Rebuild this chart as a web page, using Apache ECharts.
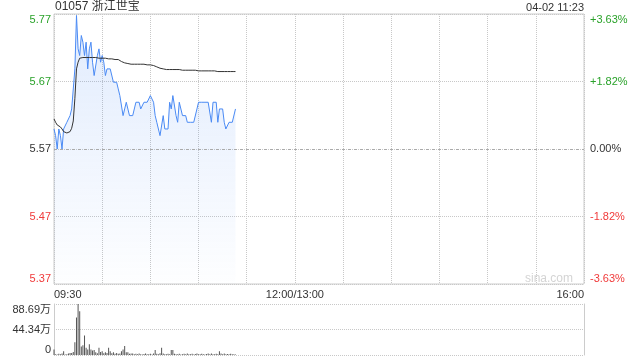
<!DOCTYPE html>
<html><head><meta charset="utf-8">
<script src="https://cdn.jsdelivr.net/npm/echarts@6/dist/echarts.min.js"></script>
<style>html,body{margin:0;padding:0;background:#fff}#c{width:640px;height:360px}</style>
</head><body><div id="c"></div>
<script>
const stockTitle = '01057 浙江世宝';
const stampText = '04-02 11:23';
const watermark = 'sina.com';
const prevClose = 5.57;
const pctRangeBp = 363;

const prices = [
 5.60,5.59,5.57,5.60,5.59,5.57,5.60,5.60,5.61,5.61,
 5.62,5.63,5.63,5.69,5.77,5.72,5.71,5.74,5.73,5.71,
 5.73,5.69,5.72,5.73,5.70,5.68,5.68,5.71,5.72,5.70,
 5.71,5.70,5.68,5.69,5.69,5.69,5.69,5.67,5.67,5.67,
 5.66,5.65,5.65,5.62,5.63,5.64,5.64,5.62,5.62,5.62,
 5.62,5.64,5.64,5.64,5.63,5.63,5.64,5.64,5.64,5.64,
 5.65,5.65,5.64,5.62,5.61,5.61,5.59,5.59,5.62,5.60,
 5.60,5.60,5.64,5.63,5.65,5.65,5.62,5.61,5.64,5.64,
 5.62,5.62,5.62,5.61,5.61,5.61,5.61,5.61,5.61,5.63,
 5.64,5.64,5.64,5.64,5.64,5.64,5.64,5.64,5.61,5.64,
 5.64,5.64,5.61,5.63,5.63,5.63,5.61,5.60,5.60,5.61,
 5.61,5.61,5.61,5.63
];

const avgPrices = [
 5.615,5.610,5.606,5.605,5.603,5.600,5.596,5.594,5.594,5.594,
 5.596,5.601,5.612,5.646,5.690,5.700,5.706,5.707,5.707,5.707,
 5.707,5.707,5.707,5.707,5.707,5.707,5.707,5.707,5.706,5.706,
 5.706,5.706,5.706,5.705,5.705,5.705,5.705,5.704,5.704,5.704,
 5.704,5.703,5.701,5.700,5.699,5.699,5.698,5.698,5.697,5.697,
 5.697,5.697,5.697,5.697,5.697,5.697,5.697,5.696,5.696,5.696,
 5.696,5.695,5.695,5.694,5.693,5.692,5.691,5.690,5.690,5.690,
 5.689,5.689,5.689,5.689,5.689,5.689,5.689,5.689,5.689,5.689,
 5.688,5.688,5.688,5.688,5.688,5.688,5.688,5.688,5.688,5.688,
 5.687,5.687,5.687,5.687,5.687,5.687,5.687,5.687,5.687,5.687,
 5.687,5.686,5.686,5.686,5.686,5.686,5.686,5.686,5.686,5.686,
 5.686,5.686,5.686,5.686
];

// volume in 万
const volumes = [
 9.7,1.5,1,2,1.5,2.5,6.5,1,1.5,2.5,
 3.5,3.5,5,22,65,88.69,76,14.6,17,34,
 12.8,9.7,18.8,9.7,7.9,8.5,4.9,3,12.8,5,
 6.7,3,4.9,3.5,12.8,6.7,3,4.9,2,3.6,
 2,2.5,6.7,9.7,15.8,4.9,4.9,2,2.5,2.4,
 1.5,2,1.2,2.4,1.5,1,1.8,2.4,1.2,1.5,
 2,1,2.4,8.5,2,1.5,3,12.8,2.4,1.5,
 1.2,2,1.5,8.5,8.5,2,1.2,1.5,2,1,
 1.2,2,1.5,2.4,1.2,1.5,2,1,1.8,2.4,
 1.5,1.2,2,1.5,1,1.8,2.4,1.5,2.4,1.2,
 1.5,2,1.2,6.7,2.4,1.5,2.4,1.2,1.8,1.5,
 2,1.2,1.5,1
];

const priceTickLabels = ['5.37','5.47','5.57','5.67','5.77'];
const pctTickLabels = ['-3.63%','-1.82%','0.00%','+1.82%','+3.63%'];
const volTickLabels = ['0','44.34万','88.69万'];
const volMax = 88.69;
const timeTickMinutes = [0, 150, 330];
const timeTickLabels = ['09:30', '12:00/13:00', '16:00'];

const FONT = '"Liberation Sans", Arial, "Noto Sans CJK SC", sans-serif';
const GREEN = '#2aa22a', RED = '#f03a3a', DARK = '#333';
const tickStyleNames = ['r', 'r', 'd', 'g', 'g'];
const richColors = {
  r: {color: RED, fontSize: 11, fontFamily: FONT},
  g: {color: GREEN, fontSize: 11, fontFamily: FONT},
  d: {color: DARK, fontSize: 11, fontFamily: FONT}
};
const step = pctRangeBp / 2;
const tIdx = v => Math.round((Number(v) + pctRangeBp) / step);
const toBp = p => (p / prevClose - 1) * 10000;
const richLabel = (labels) => (v) => {
  const k = tIdx(v);
  if (k < 0 || k >= labels.length) return '';
  return '{' + tickStyleNames[k] + '|' + labels[k] + '}';
};

const priceData = prices.map((p, i) => [i, toBp(p)]);
const avgData = avgPrices.map((p, i) => [i, toBp(p)]);
const volData = volumes.map((v, i) => [i, v]);

const chart = echarts.init(document.getElementById('c'), null, {renderer: 'canvas'});
chart.setOption({
  animation: false,
  textStyle: {fontFamily: FONT},
  title: [
    {text: stockTitle, left: 55, top: 1, padding: 0,
     textStyle: {fontSize: 12, fontWeight: 'normal', color: '#333', fontFamily: FONT}},
    {text: stampText, right: 56, top: 2, padding: 0,
     textStyle: {fontSize: 11, fontWeight: 'normal', color: '#333', fontFamily: FONT}},
    {text: watermark, right: 67, top: 273, padding: 0,
     textStyle: {fontSize: 12, fontWeight: 'normal', color: '#d4d4d4', fontFamily: FONT}}
  ],
  grid: [
    {left: 54, right: 56, top: 14, height: 270, show: true, borderColor: '#ccc', borderWidth: 1},
    {left: 54, right: 56, top: 304, height: 51}
  ],
  xAxis: [
    {type: 'value', gridIndex: 0, min: 0, max: 330, interval: 30,
     axisLine: {show: false}, axisTick: {show: false},
     axisLabel: {fontSize: 11, color: '#333', margin: 5, showMinLabel: true, showMaxLabel: true,
       alignMinLabel: 'left', alignMaxLabel: 'right',
       formatter: v => { const k = timeTickMinutes.indexOf(Math.round(v)); return k >= 0 ? timeTickLabels[k] : ''; }},
     splitLine: {show: true, lineStyle: {type: 'dotted', color: '#c8c8c8'}}},
    {type: 'value', gridIndex: 1, min: 0, max: 330, interval: 30,
     axisLine: {show: false}, axisTick: {show: false}, axisLabel: {show: false}, splitLine: {show: false}}
  ],
  yAxis: [
    {type: 'value', gridIndex: 0, min: -pctRangeBp, max: pctRangeBp, interval: step,
     axisLine: {show: false}, axisTick: {show: false},
     axisLabel: {fontSize: 11, margin: 3, showMinLabel: true, showMaxLabel: true,
       verticalAlignMinLabel: 'bottom', verticalAlignMaxLabel: 'top',
       formatter: richLabel(priceTickLabels), rich: richColors},
     splitLine: {show: true, lineStyle: {type: 'dotted', color: '#c8c8c8'}}},
    {type: 'value', gridIndex: 0, position: 'right', min: -pctRangeBp, max: pctRangeBp, interval: step,
     axisLine: {show: false}, axisTick: {show: false},
     axisLabel: {fontSize: 11, margin: 6, showMinLabel: true, showMaxLabel: true,
       verticalAlignMinLabel: 'bottom', verticalAlignMaxLabel: 'top',
       formatter: richLabel(pctTickLabels), rich: richColors},
     splitLine: {show: false}},
    {type: 'value', gridIndex: 1, min: 0, max: volMax, interval: volMax / 2,
     axisLine: {show: true, lineStyle: {color: '#ccc'}}, axisTick: {show: false},
     axisLabel: {fontSize: 11, margin: 3, color: '#333', showMinLabel: true, showMaxLabel: true,
       verticalAlignMinLabel: 'bottom', verticalAlignMaxLabel: 'top',
       formatter: v => volTickLabels[Math.round(v / (volMax / 2))]},
     splitLine: {show: true, lineStyle: {type: 'dotted', color: '#c8c8c8'}}},
    {type: 'value', gridIndex: 1, position: 'right', min: 0, max: volMax, interval: volMax / 2,
     axisLine: {show: true, lineStyle: {color: '#ccc'}}, axisTick: {show: false},
     axisLabel: {show: false}, splitLine: {show: false}}
  ],
  series: [
    {type: 'line', xAxisIndex: 0, yAxisIndex: 0, data: priceData, symbol: 'none',
     lineStyle: {color: '#4a8af4', width: 1},
     areaStyle: {origin: 'start', color: new echarts.graphic.LinearGradient(0, 0, 0, 1, [
       {offset: 0, color: 'rgba(74,138,244,0.24)'},
       {offset: 1, color: 'rgba(74,138,244,0.01)'}])},
     markLine: {silent: true, symbol: ['none', 'none'], label: {show: false},
       lineStyle: {type: [3, 3], color: '#aaa', width: 1},
       data: [{yAxis: 0}]},
     z: 3},
    {type: 'line', xAxisIndex: 0, yAxisIndex: 0, data: avgData, symbol: 'none',
     lineStyle: {color: '#333', width: 1}, z: 4},
    {type: 'bar', xAxisIndex: 1, yAxisIndex: 2, data: volData, barWidth: 1,
     itemStyle: {color: '#555'}}
  ]
});
</script></body></html>
